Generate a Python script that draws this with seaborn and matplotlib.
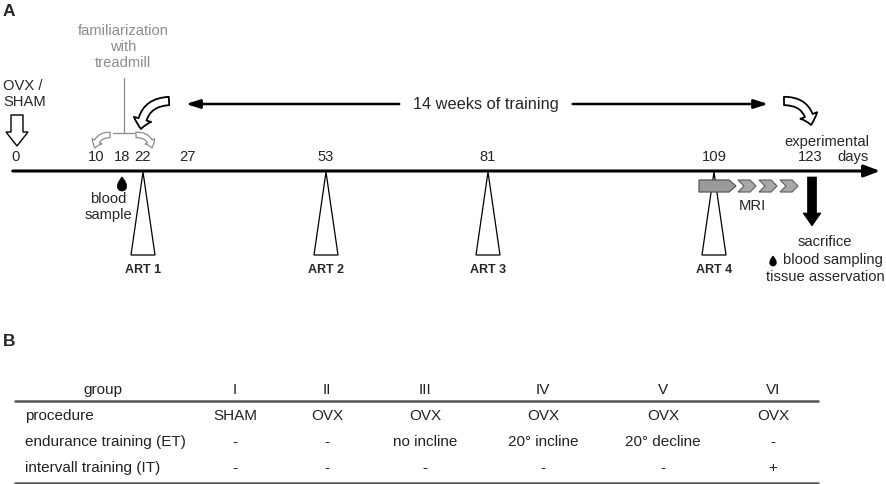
import numpy as np
import matplotlib
matplotlib.use("Agg")
import matplotlib.pyplot as plt
from matplotlib.patches import Polygon, FancyArrowPatch
import seaborn as sns

# ================== DATA ==================
DAYS = [0, 10, 18, 22, 27, 53, 81, 109, 123]
ART_DAYS = [22, 53, 81, 109]
ART_LABELS = ["ART 1", "ART 2", "ART 3", "ART 4"]
BLOOD_DAY = 18
SACRIFICE_DAY = 123

GROUPS = ["I", "II", "III", "IV", "V", "VI"]
ROW_LABELS = ["procedure", "endurance training (ET)", "intervall training (IT)"]
PROCEDURE = ["SHAM", "OVX", "OVX", "OVX", "OVX", "OVX"]
ENDURANCE = ["-", "-", "no incline", "20° incline", "20° decline", "-"]
INTERVAL = ["-", "-", "-", "-", "-", "+"]

# ================== LAYOUT (pixel positions) ==================
DAY_X = [16, 96, 122, 143, 188, 326, 488, 714, 810]
COL_X = [235, 327, 425, 543, 663, 773]
ROW_Y = [416, 442, 468]
AXIS_Y = 171
FS = 10.6
TFS = 11.0

sns.set_theme(style="white")
plt.rcParams['font.family'] = ['Liberation Sans', 'DejaVu Sans']

xpos = dict(zip(DAYS, DAY_X))

fig = plt.figure(figsize=(8.86, 4.84), dpi=100)
ax = fig.add_axes([0, 0, 1, 1])
ax.set_xlim(0, 886)
ax.set_ylim(484, 0)
ax.axis('off')


def poly(pts, fc='white', ec='black', lw=1.0, z=3):
    ax.add_patch(Polygon(pts, closed=True, facecolor=fc, edgecolor=ec, lw=lw, zorder=z))


def drop(cx, cy, size):
    t = np.linspace(0, 2 * np.pi, 60)
    xs = cx + size * 0.85 * np.sin(t) * np.sin(t / 2)
    ys = cy - size * np.cos(t)
    poly(np.column_stack([xs, ys]), fc='black', ec='black', lw=0.5, z=4)


def curved(a, b, rad, ec, hl, hw, tw, lw=1.0):
    ax.add_patch(FancyArrowPatch(a, b, connectionstyle=f"arc3,rad={rad}",
                                 arrowstyle=f"simple,head_length={hl},head_width={hw},tail_width={tw}",
                                 mutation_scale=1, facecolor='white', edgecolor=ec, lw=lw,
                                 shrinkA=0, shrinkB=0, zorder=3))


# ---------------- panel A ----------------
ax.text(3, 12, "A", fontsize=12.5, fontweight='bold', va='center', ha='left')

# timeline axis
ax.annotate("", xy=(883, AXIS_Y), xytext=(10, AXIS_Y),
            arrowprops=dict(arrowstyle='-|>,head_length=0.8,head_width=0.3', lw=2.2, color='black'))

for d in DAYS:
    ax.text(xpos[d], 157, str(d), fontsize=FS, ha='center', va='center')
ax.text(853, 157, "days", fontsize=FS, ha='center', va='center')
ax.text(827, 142, "experimental", fontsize=FS, ha='center', va='center')

# OVX / SHAM
ax.text(3, 94, "OVX /\nSHAM", fontsize=FS, ha='left', va='center', linespacing=1.15)
poly([(11, 115), (23, 115), (23, 132), (28, 132), (17, 146), (6, 132), (11, 132)])

# familiarization
grey = '#8c8c8c'
ax.text(123, 47, "familiarization\nwith\ntreadmill", fontsize=FS, ha='center', va='center',
        color=grey, linespacing=1.2)
ax.plot([124, 124], [78, 133], color=grey, lw=0.9)
ax.plot([113, 134], [133, 133], color=grey, lw=0.9)
curved((110, 135), (95, 148), 0.45, grey, 5, 8, 4, lw=0.9)
curved((136, 135), (152, 148), -0.45, grey, 5, 8, 4, lw=0.9)

# training span
curved((169, 101), (141, 129), 0.45, 'black', 7, 13, 6, lw=1.3)
curved((784, 101), (811, 125), -0.45, 'black', 7, 13, 6, lw=1.3)
ax.annotate("", xy=(183, 104), xytext=(402, 104),
            arrowprops=dict(arrowstyle='-|>,head_length=0.7,head_width=0.22', lw=1.8, color='black'))
ax.annotate("", xy=(771, 104), xytext=(570, 104),
            arrowprops=dict(arrowstyle='-|>,head_length=0.7,head_width=0.22', lw=1.8, color='black'))
ax.text(486, 104, "14 weeks of training", fontsize=11.8, ha='center', va='center')

# ART triangles
for d, lab in zip(ART_DAYS, ART_LABELS):
    x = xpos[d]
    poly([(x, AXIS_Y + 1), (x - 12, 255), (x + 12, 255)], lw=0.9, z=2)
    ax.text(x, 270, lab, fontsize=9, fontweight='bold', ha='center', va='center')

# blood sample
bx = xpos[BLOOD_DAY]
drop(bx, 184, 7)
ax.text(108, 207, "blood\nsample", fontsize=FS, ha='center', va='center', linespacing=1.15)

# MRI
poly([(699, 180), (729, 180), (736, 186), (729, 192), (699, 192)], fc='#9a9a9a', ec='#555555', lw=0.9, z=4)
for x0 in [738, 759, 780]:
    poly([(x0, 180), (x0 + 12, 180), (x0 + 18, 186), (x0 + 12, 192), (x0, 192), (x0 + 6, 186)],
         fc='#a8a8a8', ec='#666666', lw=0.9, z=4)
ax.text(752, 206, "MRI", fontsize=FS, ha='center', va='center')

# sacrifice
sx = xpos[SACRIFICE_DAY] + 2
poly([(sx - 4.5, 177), (sx + 4.5, 177), (sx + 4.5, 213), (sx + 9, 213), (sx, 226), (sx - 9, 213), (sx - 4.5, 213)],
     fc='black', ec='black', lw=0.5)
ax.text(825, 242, "sacrifice", fontsize=FS, ha='center', va='center')
drop(773, 261, 5)
ax.text(783, 260, "blood sampling", fontsize=FS, ha='left', va='center')
ax.text(825, 277, "tissue asservation", fontsize=FS, ha='center', va='center')

# ---------------- panel B ----------------
ax.text(3, 342, "B", fontsize=12.5, fontweight='bold', va='center', ha='left')

tc = '#222222'
ax.text(103, 390, "group", fontsize=TFS, ha='center', va='center', color=tc)
for x, g in zip(COL_X, GROUPS):
    ax.text(x, 390, g, fontsize=TFS, ha='center', va='center', color=tc)
ax.plot([15, 818], [401, 401], color='#555555', lw=1.8)
ax.plot([15, 818], [483, 483], color='#555555', lw=1.8)

for y, lab, row in zip(ROW_Y, ROW_LABELS, [PROCEDURE, ENDURANCE, INTERVAL]):
    ax.text(25, y, lab, fontsize=TFS, ha='left', va='center', color=tc)
    for x, v in zip(COL_X, row):
        ax.text(x, y, v, fontsize=TFS, ha='center', va='center', color=tc)

fig.savefig("out.png", dpi=100)
